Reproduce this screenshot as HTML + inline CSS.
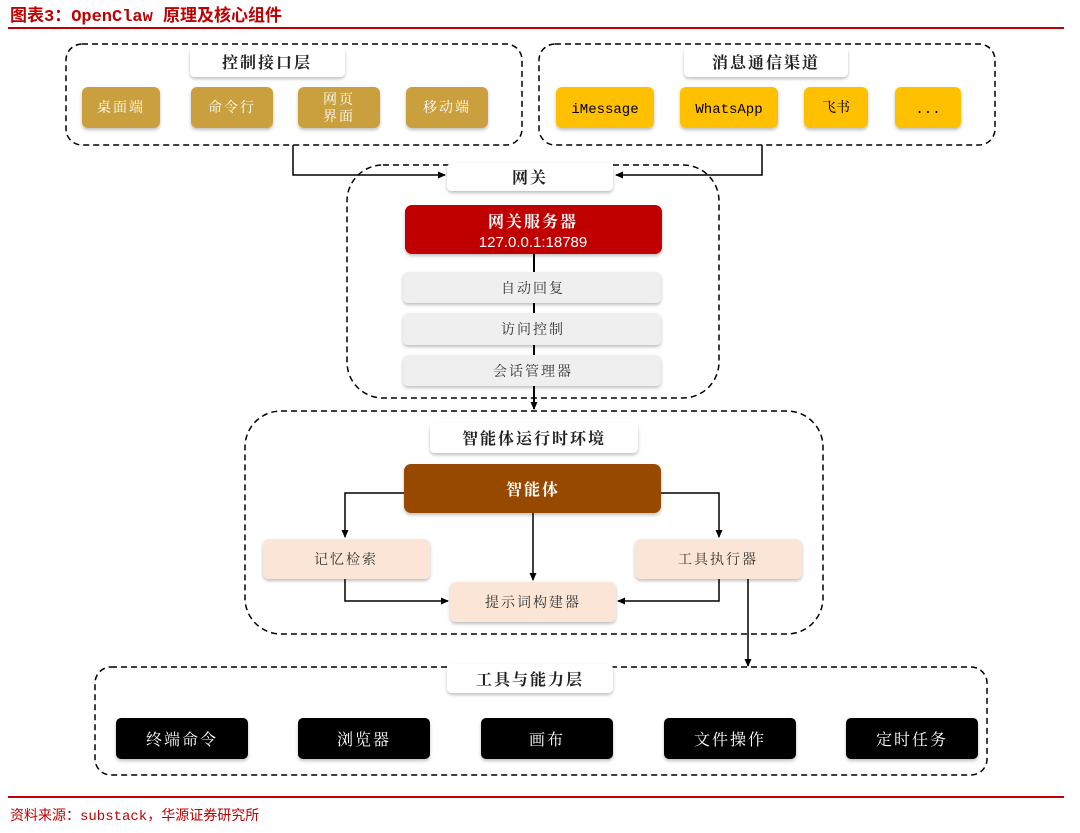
<!DOCTYPE html>
<html><head><meta charset="utf-8"><style>
html,body{margin:0;padding:0;background:#fff;width:1080px;height:833px;overflow:hidden}
svg text{font-family:"Liberation Serif","Noto Serif CJK SC",serif;}
svg .mono text{font-family:"Liberation Mono","Noto Serif CJK SC",monospace;}
</style></head><body>
<svg width="1080" height="833" viewBox="0 0 1080 833" xmlns="http://www.w3.org/2000/svg">
<defs>
<marker id="a" markerWidth="8" markerHeight="8" refX="7" refY="4" orient="auto" markerUnits="userSpaceOnUse"><path d="M0,0.5 L8,4 L0,7.5z" fill="#000"/></marker>
<filter id="sh" x="-10%" y="-20%" width="120%" height="150%"><feDropShadow dx="0" dy="2" stdDeviation="1.5" flood-color="#000" flood-opacity="0.25"/></filter>
</defs>
<text x="10" y="21" font-size="17" font-weight="bold" fill="#c00000" style='font-family:"Liberation Mono","Noto Sans CJK SC",monospace'>图表3：OpenClaw 原理及核心组件</text>
<rect x="8" y="27" width="1056" height="2" fill="#c00000"/>

<g fill="none" stroke="#000" stroke-width="1.5" stroke-dasharray="6,4">
<rect x="66" y="44" width="456" height="101" rx="16"/>
<rect x="539" y="44" width="456" height="101" rx="16"/>
<rect x="347" y="165" width="372" height="233" rx="36"/>
<rect x="245" y="411" width="578" height="223" rx="36"/>
<rect x="95" y="667" width="892" height="108" rx="16"/>
</g>

<g fill="none" stroke="#000" stroke-width="1.5">
<polyline points="293,145 293,175 445,175" marker-end="url(#a)"/>
<polyline points="762,145 762,175 616,175" marker-end="url(#a)"/>
<line x1="534" y1="254" x2="534" y2="409" stroke-width="2" marker-end="url(#a)"/>
<polyline points="404,493 345,493 345,537" marker-end="url(#a)"/>
<polyline points="661,493 719,493 719,537" marker-end="url(#a)"/>
<line x1="533" y1="513" x2="533" y2="580" marker-end="url(#a)"/>
<polyline points="345,579 345,601 448,601" marker-end="url(#a)"/>
<polyline points="719,579 719,601 618,601" marker-end="url(#a)"/>
<line x1="748" y1="579" x2="748" y2="666" marker-end="url(#a)"/>
</g>

<g filter="url(#sh)">
<rect x="190" y="47" width="155" height="30" rx="5" fill="#fff"/>
<rect x="684" y="47" width="164" height="30" rx="5" fill="#fff"/>
<rect x="447" y="163" width="166" height="28" rx="5" fill="#fff"/>
<rect x="430" y="423" width="208" height="30" rx="5" fill="#fff"/>
<rect x="447" y="664" width="166" height="29" rx="5" fill="#fff"/>
<g fill="#c9a03c">
<rect x="82" y="87" width="78" height="41" rx="6"/><rect x="191" y="87" width="82" height="41" rx="6"/>
<rect x="298" y="87" width="82" height="41" rx="6"/><rect x="406" y="87" width="82" height="41" rx="6"/>
</g>
<g fill="#ffc000">
<rect x="556" y="87" width="98" height="41" rx="6"/><rect x="680" y="87" width="98" height="41" rx="6"/>
<rect x="804" y="87" width="64" height="41" rx="6"/><rect x="895" y="87" width="66" height="41" rx="6"/>
</g>
<rect x="405" y="205" width="257" height="49" rx="7" fill="#c00000"/>
<g fill="#efefef">
<rect x="403" y="272" width="258" height="31" rx="5"/><rect x="403" y="313" width="258" height="32" rx="5"/><rect x="403" y="355" width="258" height="31" rx="5"/>
</g>
<rect x="404" y="464" width="257" height="49" rx="7" fill="#974806"/>
<g fill="#fbe5d6">
<rect x="263" y="539" width="167" height="40" rx="6"/><rect x="635" y="539" width="167" height="40" rx="6"/><rect x="450" y="582" width="166" height="40" rx="6"/>
</g>
<g fill="#000">
<rect x="116" y="718" width="132" height="41" rx="5"/><rect x="298" y="718" width="132" height="41" rx="5"/><rect x="481" y="718" width="132" height="41" rx="5"/><rect x="664" y="718" width="132" height="41" rx="5"/><rect x="846" y="718" width="132" height="41" rx="5"/>
</g>
</g>

<g text-anchor="middle" font-size="16" font-weight="bold" fill="#222" letter-spacing="2">
<text x="267" y="68">控制接口层</text><text x="766" y="68">消息通信渠道</text><text x="530" y="183">网关</text>
<text x="534" y="444">智能体运行时环境</text><text x="530" y="685">工具与能力层</text>
</g>
<g text-anchor="middle" font-size="14" fill="#fff" letter-spacing="2">
<text x="121" y="112">桌面端</text><text x="232" y="112">命令行</text><text x="339" y="104">网页</text><text x="339" y="121">界面</text><text x="447" y="112">移动端</text>
</g>
<g class="mono" text-anchor="middle" font-size="14" fill="#000">
<text x="605" y="113">iMessage</text><text x="729" y="113">WhatsApp</text><text x="836" y="112">飞书</text><text x="928" y="113">...</text>
</g>
<text x="533" y="227" text-anchor="middle" font-size="16" font-weight="bold" fill="#fff" letter-spacing="2">网关服务器</text>
<text x="533" y="247" text-anchor="middle" font-size="15" fill="#fff" style='font-family:"Liberation Sans",sans-serif'>127.0.0.1:18789</text>
<g text-anchor="middle" font-size="14" fill="#333" letter-spacing="2">
<text x="533" y="293">自动回复</text><text x="533" y="334">访问控制</text><text x="533" y="376">会话管理器</text>
<text x="346" y="564">记忆检索</text><text x="718" y="564">工具执行器</text><text x="533" y="607">提示词构建器</text>
</g>
<text x="533" y="495" text-anchor="middle" font-size="16" font-weight="bold" fill="#fff" letter-spacing="2">智能体</text>
<g text-anchor="middle" font-size="16" fill="#fff" letter-spacing="2">
<text x="182" y="745">终端命令</text><text x="364" y="745">浏览器</text><text x="547" y="745">画布</text><text x="730" y="745">文件操作</text><text x="912" y="745">定时任务</text>
</g>
<rect x="8" y="796" width="1056" height="2" fill="#c00000"/>
<text x="10" y="820" font-size="14" fill="#c00000" style='font-family:"Liberation Mono","Noto Sans CJK SC",monospace'>资料来源：substack，华源证券研究所</text>
</svg>
</body></html>
